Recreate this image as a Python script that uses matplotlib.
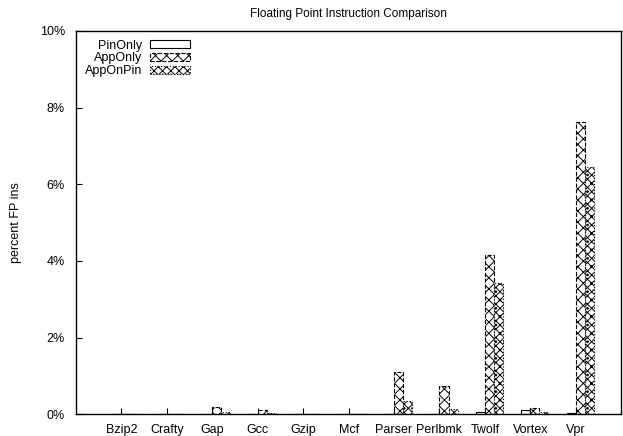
import matplotlib.pyplot as plt
import numpy as np

plt.rcParams['font.family'] = ['Liberation Sans', 'DejaVu Sans']
plt.rcParams['hatch.linewidth'] = 0.7

benchmarks = ['Bzip2', 'Crafty', 'Gap', 'Gcc', 'Gzip', 'Mcf', 'Parser', 'Perlbmk', 'Twolf', 'Vortex', 'Vpr']
pin_only = [0.0, 0.0, 0.01, 0.01, 0.0, 0.0, 0.0, 0.01, 0.06, 0.10, 0.02]
app_only = [0.005, 0.005, 0.19, 0.11, 0.005, 0.005, 1.09, 0.74, 4.15, 0.15, 7.63]
app_on_pin = [0.005, 0.005, 0.07, 0.04, 0.005, 0.005, 0.35, 0.13, 3.43, 0.06, 6.46]

x = np.arange(len(benchmarks))
w = 0.2

fig = plt.figure(figsize=(6.23, 4.36), dpi=100)
ax = fig.add_axes([0.122, 0.05, 0.875, 0.879])

ax.bar(x - w, pin_only, w, align='edge', facecolor='white', edgecolor='black', lw=0.8, label='PinOnly')
ax.bar(x, app_only, w, align='edge', facecolor='white', edgecolor='black', lw=0.8, ls='--',
       hatch='xxx', label='AppOnly')
ax.bar(x + w, app_on_pin, w, align='edge', facecolor='white', edgecolor='black', lw=0.8, ls=':',
       hatch='xxxx..', label='AppOnPin')

ax.set_xlim(-1, 11)
ax.set_ylim(0, 10)
ax.set_xticks(x)
ax.set_xticklabels(benchmarks)
ax.set_yticks(np.arange(0, 11, 2))
ax.set_yticklabels(['%d%%' % v for v in range(0, 11, 2)])
ax.tick_params(direction='in', length=4, width=0.8, labelsize=9, pad=8)
ax.tick_params(axis='x', pad=7)
for s in ax.spines.values():
    s.set_linewidth(1.0)

ax.set_ylabel('percent FP ins', fontsize=9, labelpad=13)
ax.set_title('Floating Point Instruction Comparison', fontsize=8.5, pad=10)

ax.legend(loc='upper left', bbox_to_anchor=(0.0, 1.0), frameon=False, markerfirst=False,
          fontsize=9, handlelength=3.2, handleheight=0.6, labelspacing=0.05, borderaxespad=0.3,
          handletextpad=0.6)

fig.savefig('out.png', dpi=100)
